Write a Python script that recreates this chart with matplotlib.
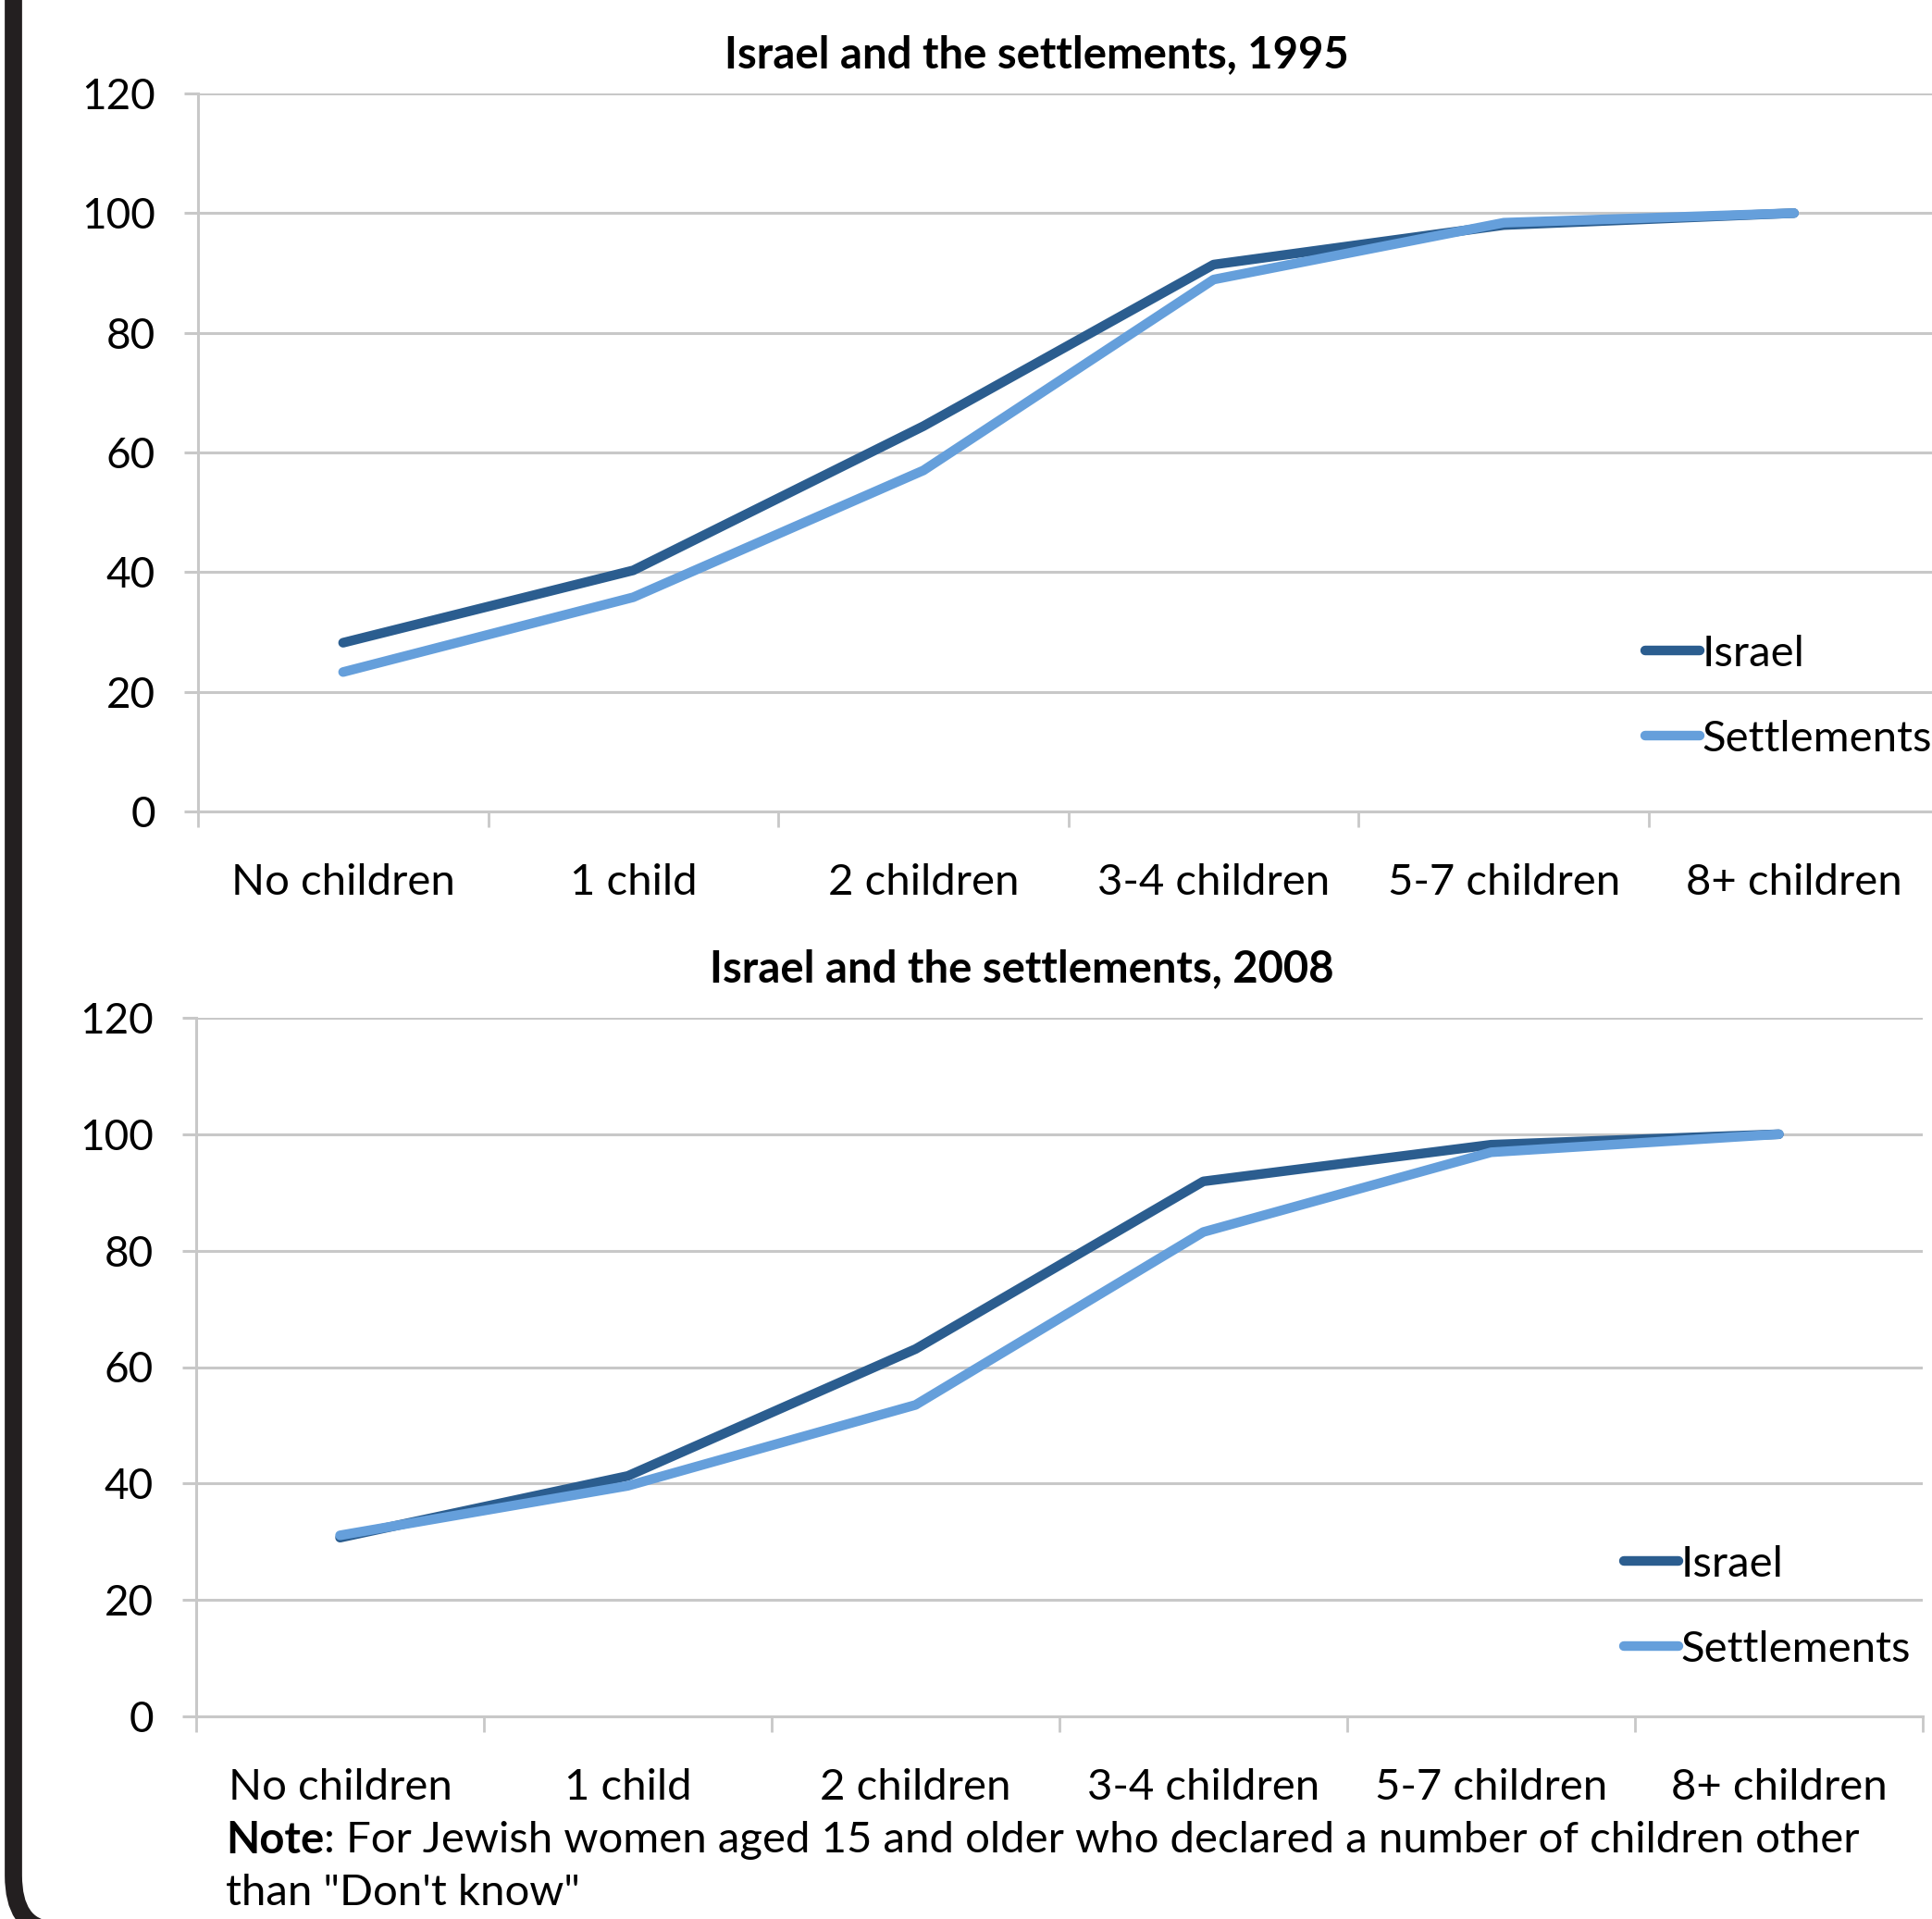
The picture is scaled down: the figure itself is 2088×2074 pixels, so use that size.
import matplotlib
matplotlib.use("Agg")
import matplotlib.pyplot as plt
from matplotlib.path import Path
from matplotlib.patches import PathPatch
from matplotlib.transforms import IdentityTransform

plt.rcParams['font.family'] = ['Lato', 'DejaVu Sans']

categories = ["No children", "1 child", "2 children", "3-4 children", "5-7 children", "8+ children"]
israel_1995 = [28.2, 40.3, 64.4, 91.4, 98.0, 100.0]
settle_1995 = [23.3, 35.8, 57.0, 88.9, 98.4, 100.0]
israel_2008 = [30.7, 41.3, 63.1, 91.9, 98.2, 100.0]
settle_2008 = [31.1, 39.6, 53.5, 83.2, 96.9, 100.0]
yticks = [0, 20, 40, 60, 80, 100, 120]

DARK = '#2b5d8f'
LIGHT = '#659fdb'
GRID = '#c8c8c8'

W, H = 2088, 2074
fig = plt.figure(figsize=(W / 100, H / 100), dpi=100)


def px_axes(left, top, bottom, width):
    # axes placed with pixel coordinates measured from the top-left
    return fig.add_axes([left / W, (H - bottom) / H, width / W, (bottom - top) / H])


def draw_panel(ax, isr, stl, title, title_x, title_y, leg_x, leg_y):
    x = [i + 0.5 for i in range(len(categories))]
    ax.plot(x, isr, color=DARK, lw=7.5, solid_capstyle='round', solid_joinstyle='round', label='Israel', zorder=3)
    ax.plot(x, stl, color=LIGHT, lw=7.5, solid_capstyle='round', solid_joinstyle='round', label='Settlements', zorder=4)
    ax.set_xlim(0, len(categories))
    ax.set_ylim(0, 120)
    ax.set_yticks(yticks)
    ax.set_yticklabels([str(v) for v in yticks], fontsize=33)
    ax.set_xticks(range(len(categories) + 1))
    ax.set_xticklabels([])
    ax.set_xticks(x, minor=True)
    ax.set_xticklabels(categories, minor=True, fontsize=34)
    ax.tick_params(axis='x', which='minor', length=0, pad=40)
    ax.tick_params(axis='x', which='major', length=12, width=2, color=GRID, direction='out')
    ax.tick_params(axis='y', length=11, width=2.2, color=GRID, pad=22)
    ax.grid(axis='y', color=GRID, lw=2.2)
    ax.set_axisbelow(True)
    for s in ['top', 'right']:
        ax.spines[s].set_visible(False)
    for s in ['left', 'bottom']:
        ax.spines[s].set_color(GRID)
        ax.spines[s].set_linewidth(2.2)
    ax.spines['bottom'].set_zorder(1)
    fig.text(title_x / W, 1 - title_y / H, title, ha='center', va='center',
             fontsize=34, fontweight='bold')
    fig.legend(handles=ax.get_lines(), loc='upper left',
               bbox_to_anchor=(leg_x / W, 1 - leg_y / H), frameon=False,
               fontsize=34, handlelength=1.25, handletextpad=0.05,
               labelspacing=1.05, borderpad=0, borderaxespad=0)


ax1 = px_axes(214, 101, 877, 6 * 313.6)
draw_panel(ax1, israel_1995, settle_1995, "Israel and the settlements, 1995", 1120, 59, 1778, 686)

ax2 = px_axes(212, 1100, 1855, 6 * 311)
draw_panel(ax2, israel_2008, settle_2008, "Israel and the settlements, 2008", 1104, 1047, 1755, 1670)

# note under the lower chart, bold lead word then regular text
note_y = 1 - 1989 / H
t = fig.text(244 / W, note_y, "Note", fontsize=34, fontweight='bold', va='center')
r = fig.canvas.get_renderer()
bb = t.get_window_extent(renderer=r)
fig.text(bb.x1 / W, note_y, ': For Jewish women aged 15 and older who declared a number of children other',
         fontsize=34, va='center')
fig.text(244 / W, 1 - 2046 / H, 'than "Don\'t know"', fontsize=34, va='center')

# dark frame running down the left edge with a rounded lower corner
verts = [(14.5, H + 10), (14.5, H - 2027), (14.5, -8), (55, -12)]
codes = [Path.MOVETO, Path.LINETO, Path.CURVE3, Path.CURVE3]
frame = PathPatch(Path(verts, codes), transform=IdentityTransform(), facecolor='none',
                  edgecolor='#231f20', lw=13.5, capstyle='butt')
fig.patches.append(frame)

fig.savefig('out.png', dpi=100)
